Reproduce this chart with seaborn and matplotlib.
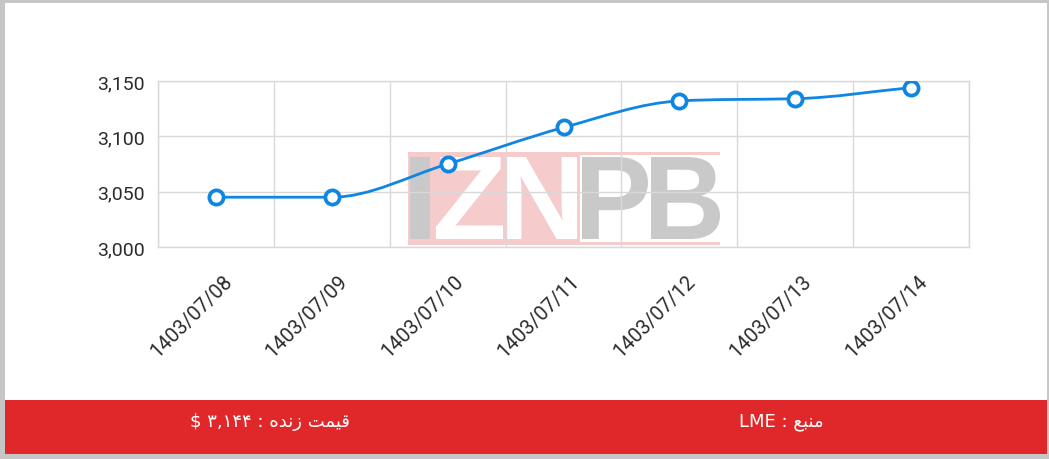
import numpy as np
import pandas as pd
import matplotlib.pyplot as plt
import seaborn as sns
from matplotlib.path import Path
from matplotlib.patches import PathPatch, Rectangle
from matplotlib.textpath import TextPath
from matplotlib.font_manager import FontProperties
from matplotlib.transforms import Affine2D, ScaledTranslation

# --- data ---
dates = ["1403/07/08", "1403/07/09", "1403/07/10", "1403/07/11",
         "1403/07/12", "1403/07/13", "1403/07/14"]
prices = [3045, 3045, 3075, 3108, 3132, 3134, 3144]
y_ticks = [3000, 3050, 3100, 3150]
live_label = "قیمت زنده : ۳,۱۴۴ $"
source_label = "منبع : LME"

W, H = 1049, 460
BLUE = "#0f86e2"
GRID = "#d9d9d9"

sns.set_theme(style="white")
plt.rcParams["font.family"] = ["Roboto", "DejaVu Sans"]

# simple Persian shaping (matplotlib has no RTL / joining support)
FORMS = {  # isolated, final, initial, medial
    "ق": "\ufed5\ufed6\ufed7\ufed8", "ی": "\ufbfc\ufbfd\ufef3\ufef4",
    "م": "\ufee1\ufee2\ufee3\ufee4", "ت": "\ufe95\ufe96\ufe97\ufe98",
    "ز": "\ufeaf\ufeb0\ufeaf\ufeb0", "ن": "\ufee5\ufee6\ufee7\ufee8",
    "د": "\ufea9\ufeaa\ufea9\ufeaa", "ه": "\ufee9\ufeea\ufeeb\ufeec",
    "ب": "\ufe8f\ufe90\ufe91\ufe92", "ع": "\ufec9\ufeca\ufecb\ufecc",
}
NO_LEFT = set("دذرزژوا")


def shape_word(w):
    out = []
    for i, ch in enumerate(w):
        if ch not in FORMS:
            out.append(ch)
            continue
        prev_joins = i > 0 and w[i - 1] in FORMS and w[i - 1] not in NO_LEFT
        next_joins = i < len(w) - 1 and w[i + 1] in FORMS and ch not in NO_LEFT
        idx = {(False, False): 0, (True, False): 1,
               (False, True): 2, (True, True): 3}[(prev_joins, next_joins)]
        out.append(FORMS[ch][idx])
    return "".join(out)


def rtl(text):
    toks = []
    for t in text.split(" "):
        if any(c in FORMS for c in t):
            toks.append(shape_word(t)[::-1])
        else:
            toks.append(t)
    return " ".join(reversed(toks))


def monotone_path(xs, ys):
    xs = np.asarray(xs, float)
    ys = np.asarray(ys, float)
    d = np.diff(ys) / np.diff(xs)
    m = np.zeros(len(xs))
    m[0], m[-1] = d[0], d[-1]
    for i in range(1, len(xs) - 1):
        if d[i - 1] * d[i] > 0:
            m[i] = (d[i - 1] + d[i]) / 2
    for i in range(len(d)):
        if d[i] == 0:
            m[i] = m[i + 1] = 0
            continue
        a, b = m[i] / d[i], m[i + 1] / d[i]
        s = a * a + b * b
        if s > 9:
            t = 3 / np.sqrt(s)
            m[i], m[i + 1] = a * t * d[i], b * t * d[i]
    verts = [(xs[0], ys[0])]
    codes = [Path.MOVETO]
    for i in range(len(d)):
        dx = (xs[i + 1] - xs[i]) / 3
        verts += [(xs[i] + dx, ys[i] + m[i] * dx),
                  (xs[i + 1] - dx, ys[i + 1] - m[i + 1] * dx),
                  (xs[i + 1], ys[i + 1])]
        codes += [Path.CURVE4] * 3
    return Path(verts, codes)


fig = plt.figure(figsize=(W / 100, H / 100), dpi=100)
fig.patch.set_facecolor("white")
ax = fig.add_axes([158 / W, 1 - 248 / H, (969 - 158) / W, (248 - 82) / H])
ax.set_facecolor("white")

df = pd.DataFrame({"pos": np.arange(len(dates)), "date": dates, "price": prices})

# smooth line + hollow markers
ax.add_patch(PathPatch(monotone_path(df["pos"], df["price"]), fill=False,
                       edgecolor=BLUE, lw=2.0, zorder=3))
sns.scatterplot(data=df, x="pos", y="price", ax=ax, s=105, color="white",
                edgecolor=BLUE, linewidth=2.7, zorder=4, legend=False)

ax.set_xlim(-0.5, len(dates) - 0.5)
ax.set_ylim(y_ticks[0], y_ticks[-1])
ax.set_xticks(df["pos"])
ax.set_xticks(np.arange(-0.5, len(dates), 1), minor=True)
ax.set_xticklabels(dates, rotation=45, ha="right", va="center",
                   rotation_mode="anchor", fontsize=14.5, color="#2b2b2b")
ax.set_yticks(y_ticks)
ax.set_yticklabels([f"{v:,}" for v in y_ticks], fontsize=14, color="#2b2b2b")
ax.set_xlabel("")
ax.set_ylabel("")
ax.tick_params(axis="x", which="both", length=0, pad=0)
ax.tick_params(axis="y", length=0, pad=9.5)
ax.grid(which="minor", axis="x", color=GRID, lw=1)
ax.grid(which="major", axis="y", color=GRID, lw=1)
ax.grid(which="major", axis="x", visible=False)
ax.set_axisbelow(True)
for sp in ax.spines.values():
    sp.set_color(GRID)
    sp.set_linewidth(1)

shift = ScaledTranslation(13 / 100, -31 / 100, fig.dpi_scale_trans)
for lab in ax.get_xticklabels():
    lab.set_transform(lab.get_transform() + shift)

# watermark (pixel coordinates -> figure fraction)
px = Affine2D().scale(1 / W, 1 / H) + fig.transFigure


def box(x0, y0, x1, y1, color):
    ax.add_artist(Rectangle((x0, H - y1), x1 - x0, y1 - y0, transform=px,
                            facecolor=color, edgecolor="none", zorder=0.2,
                            clip_on=False))


def glyph(s, x0, y0, x1, y1, color):
    tp = TextPath((0, 0), s, prop=FontProperties(family="Liberation Sans",
                                                   weight="bold"), size=100)
    e = tp.get_extents()
    tr = (Affine2D().translate(-e.x0, -e.y0)
          .scale((x1 - x0) / e.width, (y1 - y0) / e.height)
          .translate(x0, H - y1)) + px
    ax.add_artist(PathPatch(tp, transform=tr, facecolor=color,
                            edgecolor="none", zorder=0.3, clip_on=False))


PINK = "#f5cbcc"
LOGO_GRAY = "#c9c9c9"
box(408, 153, 580, 246, PINK)
box(580, 153, 720, 156, PINK)
box(580, 243, 720, 246, PINK)
glyph("I", 410, 158, 430, 240, LOGO_GRAY)
glyph("Z", 436, 158, 503, 240, "white")
glyph("N", 506, 158, 577, 240, "white")
glyph("P", 582, 158, 648, 240, LOGO_GRAY)
glyph("B", 651, 158, 720, 240, LOGO_GRAY)

# frame + red footer band
for x0, y0, x1, y1 in [(0, 0, W, 4), (0, 0, 5, H), (W - 2, 0, W, H),
                       (0, H - 5, W, H)]:
    fig.add_artist(Rectangle((x0, H - y1), x1 - x0, y1 - y0, transform=px,
                             facecolor="#c6c6c6", edgecolor="none"))
fig.add_artist(Rectangle((5, H - 455), W - 7, 54, transform=px,
                         facecolor="#e0282a", edgecolor="none"))
fig.text(270 / W, 1 - 422 / H, rtl(live_label), color="white", fontsize=13,
         ha="center", va="center", family=["DejaVu Sans"])
fig.text(781 / W, 1 - 422 / H, rtl(source_label), color="white", fontsize=13,
         ha="center", va="center", family=["DejaVu Sans"])

fig.savefig("out.png", dpi=100)
